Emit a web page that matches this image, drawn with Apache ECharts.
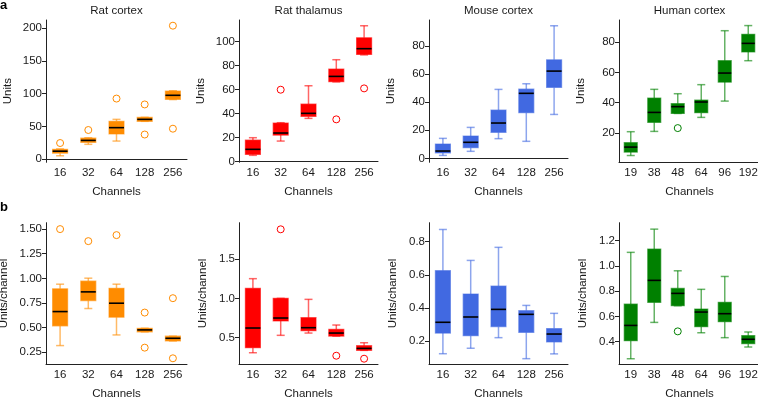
<!DOCTYPE html>
<html>
<head>
<meta charset="utf-8">
<script src="https://cdn.jsdelivr.net/npm/echarts@6/dist/echarts.min.js"></script>
<style>
html,body{margin:0;padding:0;background:#fff;}
#chart{width:758px;height:399px;}
</style>
</head>
<body>
<div id="chart"></div>
<script>
// ---------- DATA ----------
const panelTitles = ['Rat cortex', 'Rat thalamus', 'Mouse cortex', 'Human cortex'];
const channelsRodent = ['16', '32', '64', '128', '256'];
const channelsHuman = ['19', '38', '48', '64', '96', '192'];

// box stats: [whisker low, Q1, median, Q3, whisker high]
const ratCortexUnits = [[5, 9, 12, 15, 15.5], [22.5, 25.5, 28.5, 32, 32.5], [27.5, 38.3, 48, 57.7, 60.7], [57.7, 57.7, 60.7, 63.8, 63.8], [91, 91.3, 97.5, 104, 104.5]];
const ratCortexUnitsOut = [[0, 24.5], [1, 44.4], [2, 92.5], [3, 83.5], [3, 37.5], [4, 204], [4, 46.4]];
const ratThalamusUnits = [[5.3, 6.1, 10.3, 18, 20], [17.2, 22.2, 23.9, 32.2, 32.5], [36.1, 37.8, 40.3, 48, 63.3], [66.5, 66.7, 71.1, 77.2, 85], [89, 89.4, 94.2, 103.3, 113.3]];
const ratThalamusUnitsOut = [[1, 60], [3, 35.3], [4, 61.1]];
const mouseCortexUnits = [[2.1, 3.8, 5.2, 10.2, 14.2], [5, 7.6, 11.4, 15.9, 22], [14, 18.5, 25.1, 34.3, 49], [12.1, 32.4, 46.2, 49.2, 53], [31.2, 50.4, 62, 70, 94.2]];
const mouseCortexUnitsOut = [];
const humanCortexUnits = [[4.9, 7.2, 10.5, 13.4, 20.7], [20.9, 26.9, 33.5, 43, 48.8], [32.8, 32.8, 37.3, 39.3, 45.9], [30.2, 33.3, 40.4, 41.7, 51.9], [41, 53.6, 59.6, 67.8, 87.7], [67.8, 73.6, 79.3, 85.3, 91.1]];
const humanCortexUnitsOut = [[2, 23.1]];

const ratCortexPerCh = [[0.318, 0.518, 0.663, 0.894, 0.941], [0.694, 0.775, 0.863, 0.972, 1.002], [0.426, 0.606, 0.748, 0.9, 0.941], [0.457, 0.457, 0.477, 0.494, 0.494], [0.365, 0.365, 0.392, 0.413, 0.413]];
const ratCortexPerChOut = [[0, 1.50], [1, 1.378], [2, 1.439], [3, 0.653], [3, 0.297], [4, 0.799], [4, 0.189]];
const ratThalamusPerCh = [[0.309, 0.373, 0.623, 1.127, 1.25], [0.53, 0.712, 0.75, 1.0, 1.0], [0.559, 0.589, 0.627, 0.754, 0.987], [0.52, 0.521, 0.559, 0.606, 0.661], [0.339, 0.339, 0.364, 0.398, 0.436]];
const ratThalamusPerChOut = [[1, 1.877], [3, 0.271], [4, 0.233]];
const mouseCortexPerCh = [[0.123, 0.248, 0.313, 0.625, 0.874], [0.156, 0.232, 0.345, 0.484, 0.687], [0.22, 0.287, 0.391, 0.532, 0.766], [0.093, 0.252, 0.361, 0.383, 0.415], [0.122, 0.194, 0.242, 0.275, 0.367]];
const mouseCortexPerChOut = [];
const humanCortexPerCh = [[0.265, 0.408, 0.529, 0.698, 1.108], [0.553, 0.712, 0.886, 1.134, 1.292], [0.685, 0.685, 0.783, 0.822, 0.962], [0.471, 0.519, 0.635, 0.659, 0.815], [0.432, 0.558, 0.622, 0.712, 0.917], [0.358, 0.384, 0.419, 0.448, 0.477]];
const humanCortexPerChOut = [[2, 0.482]];

// tick labels
const ticksRatCortexUnits = [0, 50, 100, 150, 200];
const ticksRatThalamusUnits = [0, 20, 40, 60, 80, 100];
const ticksMouseCortexUnits = [0, 20, 40, 60, 80];
const ticksHumanCortexUnits = [20, 40, 60, 80];
const ticksRatCortexPerCh = [0.25, 0.50, 0.75, 1.00, 1.25, 1.50];
const ticksRatThalamusPerCh = [0.5, 1.0, 1.5];
const ticksMouseCortexPerCh = [0.2, 0.4, 0.6, 0.8];
const ticksHumanCortexPerCh = [0.4, 0.6, 0.8, 1.0, 1.2];

// ---------- STYLE / LAYOUT ----------
const colors = ['#FF8C00', '#FF0000', '#4169E1', '#008000'];
const strokes = ['rgba(255,140,0,0.6)', 'rgba(255,0,0,0.6)', 'rgba(65,105,225,0.6)', 'rgba(0,128,0,0.6)'];
const FONT = 'Liberation Sans, Arial, Helvetica, sans-serif';
const FS = 11.5;
const TXT = '#1a1a1a';

const panels = [
  {row: 0, col: 0, cats: channelsRodent, box: ratCortexUnits, out: ratCortexUnitsOut, ticks: ticksRatCortexUnits, min: -5, max: 212.7, dec: 0, yname: 'Units', nameGap: 32},
  {row: 0, col: 1, cats: channelsRodent, box: ratThalamusUnits, out: ratThalamusUnitsOut, ticks: ticksRatThalamusUnits, min: -0.5, max: 118.1, dec: 0, yname: 'Units', nameGap: 32},
  {row: 0, col: 2, cats: channelsRodent, box: mouseCortexUnits, out: mouseCortexUnitsOut, ticks: ticksMouseCortexUnits, min: -2.8, max: 98.3, dec: 0, yname: 'Units', nameGap: 32},
  {row: 0, col: 3, cats: channelsHuman, box: humanCortexUnits, out: humanCortexUnitsOut, ticks: ticksHumanCortexUnits, min: 0.4, max: 94.8, dec: 0, yname: 'Units', nameGap: 32},
  {row: 1, col: 0, cats: channelsRodent, box: ratCortexPerCh, out: ratCortexPerChOut, ticks: ticksRatCortexPerCh, min: 0.128, max: 1.565, dec: 2, yname: 'Units/channel', nameGap: 36},
  {row: 1, col: 1, cats: channelsRodent, box: ratThalamusPerCh, out: ratThalamusPerChOut, ticks: ticksRatThalamusPerCh, min: 0.162, max: 1.961, dec: 1, yname: 'Units/channel', nameGap: 30},
  {row: 1, col: 2, cats: channelsRodent, box: mouseCortexPerCh, out: mouseCortexPerChOut, ticks: ticksMouseCortexPerCh, min: 0.059, max: 0.915, dec: 1, yname: 'Units/channel', nameGap: 30},
  {row: 1, col: 3, cats: channelsHuman, box: humanCortexPerCh, out: humanCortexPerChOut, ticks: ticksHumanCortexPerCh, min: 0.221, max: 1.343, dec: 1, yname: 'Units/channel', nameGap: 30}
];

const colLeft = [46, 239, 429, 619];
const colWidth = [141, 139, 139, 141];
const rowTop = [20, 222.7];
const rowHeight = [142.3, 141.6];

function makeRender(fill, stroke, bw) {
  return function (params, api) {
    const i = api.value(0);
    const pl = api.coord([i, api.value(1)]);
    const p1 = api.coord([i, api.value(2)]);
    const pm = api.coord([i, api.value(3)]);
    const p3 = api.coord([i, api.value(4)]);
    const ph = api.coord([i, api.value(5)]);
    const cx = pm[0];
    const cap = 4;
    const ls = {stroke: stroke, lineWidth: 1.5};
    return {
      type: 'group',
      children: [
        {type: 'line', shape: {x1: cx, y1: ph[1], x2: cx, y2: p3[1]}, style: ls},
        {type: 'line', shape: {x1: cx, y1: p1[1], x2: cx, y2: pl[1]}, style: ls},
        {type: 'line', shape: {x1: cx - cap, y1: ph[1], x2: cx + cap, y2: ph[1]}, style: ls},
        {type: 'line', shape: {x1: cx - cap, y1: pl[1], x2: cx + cap, y2: pl[1]}, style: ls},
        {type: 'rect', shape: {x: cx - bw / 2, y: p3[1], width: bw, height: Math.max(p1[1] - p3[1], 1)}, style: {fill: fill, stroke: stroke, lineWidth: 1.2}},
        {type: 'line', shape: {x1: cx - bw / 2, y1: pm[1], x2: cx + bw / 2, y2: pm[1]}, style: {stroke: '#000', lineWidth: 1.6}}
      ]
    };
  };
}

const grid = [], xAxis = [], yAxis = [], series = [], graphic = [];
panels.forEach((p, k) => {
  const left = colLeft[p.col], width = colWidth[p.col];
  grid.push({left: left, top: rowTop[p.row], width: width, height: rowHeight[p.row], containLabel: false, outerBoundsMode: 'none'});
  xAxis.push({
    type: 'category', gridIndex: k, data: p.cats, boundaryGap: true,
    name: 'Channels', nameLocation: 'middle', nameGap: 24,
    nameTextStyle: {fontFamily: FONT, fontSize: FS, color: TXT},
    axisLine: {lineStyle: {color: '#222', width: 1}},
    axisTick: {alignWithLabel: true, length: 4, lineStyle: {color: '#222'}},
    axisLabel: {fontFamily: FONT, fontSize: FS, color: TXT, margin: 5, interval: 0},
    splitLine: {show: false}
  });
  yAxis.push({
    type: 'value', gridIndex: k, min: p.min, max: p.max,
    name: p.yname, nameLocation: 'middle', nameGap: p.nameGap, nameRotate: 90,
    nameTextStyle: {fontFamily: FONT, fontSize: FS, color: TXT},
    axisLine: {show: true, lineStyle: {color: '#222', width: 1}},
    axisTick: {show: true, length: 4, customValues: p.ticks, lineStyle: {color: '#222'}},
    axisLabel: {fontFamily: FONT, fontSize: FS, color: TXT, margin: 4, customValues: p.ticks,
      formatter: (v) => Number(v).toFixed(p.dec)},
    splitLine: {show: false}
  });
  const ci = p.col;
  const bw = p.cats.length === 6 ? 13 : 15;
  series.push({
    type: 'custom', xAxisIndex: k, yAxisIndex: k,
    renderItem: makeRender(colors[ci], strokes[ci], bw),
    encode: {x: 0, y: [1, 2, 3, 4, 5]},
    data: p.box.map((b, i) => [i].concat(b)),
    silent: true, clip: false
  });
  series.push({
    type: 'scatter', xAxisIndex: k, yAxisIndex: k,
    symbol: 'circle', symbolSize: 7,
    itemStyle: {color: 'rgba(255,255,255,0)', borderColor: colors[ci], borderWidth: 1, opacity: 1},
    data: p.out, silent: true, z: 5
  });
  if (p.row === 0) {
    graphic.push({type: 'text', x: left + width / 2, y: 5,
      style: {text: panelTitles[p.col], font: FS + 'px ' + FONT, fill: TXT, textAlign: 'center', textVerticalAlign: 'top'}});
  }
});
graphic.push({type: 'text', x: 0, y: -1, style: {text: 'a', font: 'bold 13px ' + FONT, fill: '#000', textVerticalAlign: 'top'}});
graphic.push({type: 'text', x: 0, y: 201, style: {text: 'b', font: 'bold 13px ' + FONT, fill: '#000', textVerticalAlign: 'top'}});

const chart = echarts.init(document.getElementById('chart'), null, {renderer: 'canvas'});
chart.setOption({
  animation: false,
  backgroundColor: '#fff',
  grid: grid, xAxis: xAxis, yAxis: yAxis, series: series, graphic: graphic
});
</script>
</body>
</html>
